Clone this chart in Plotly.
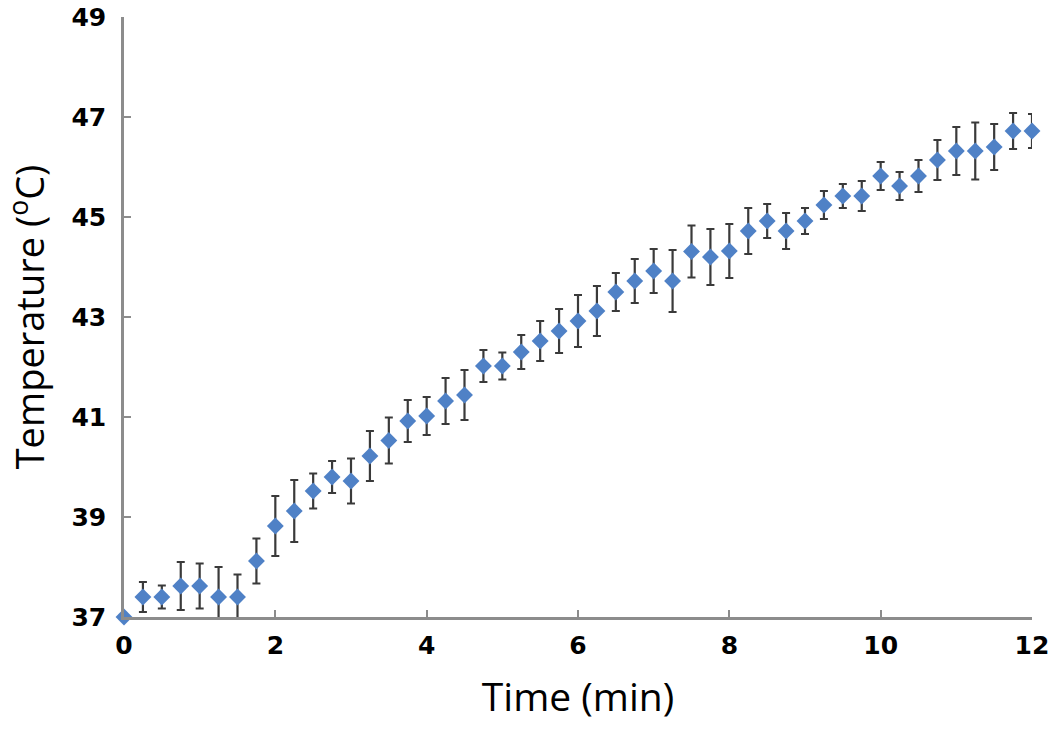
import plotly.graph_objects as go

time_min = [0, 0.25, 0.5, 0.75, 1.0, 1.25, 1.5, 1.75, 2.0, 2.25, 2.5, 2.75, 3.0, 3.25, 3.5, 3.75,
            4.0, 4.25, 4.5, 4.75, 5.0, 5.25, 5.5, 5.75, 6.0, 6.25, 6.5, 6.75, 7.0, 7.25, 7.5, 7.75,
            8.0, 8.25, 8.5, 8.75, 9.0, 9.25, 9.5, 9.75, 10.0, 10.25, 10.5, 10.75, 11.0, 11.25, 11.5,
            11.75, 12.0]
temperature = [37.0, 37.4, 37.4, 37.62, 37.62, 37.4, 37.4, 38.12, 38.82, 39.12, 39.52, 39.8, 39.72,
               40.22, 40.53, 40.92, 41.02, 41.32, 41.44, 42.02, 42.02, 42.3, 42.52, 42.72, 42.92,
               43.12, 43.5, 43.72, 43.92, 43.72, 44.31, 44.2, 44.32, 44.72, 44.92, 44.72, 44.92,
               45.24, 45.42, 45.42, 45.82, 45.62, 45.82, 46.14, 46.32, 46.32, 46.4, 46.72, 46.72]
error = [0.0, 0.3, 0.23, 0.48, 0.45, 0.6, 0.45, 0.45, 0.6, 0.62, 0.35, 0.32, 0.45, 0.5, 0.46, 0.42,
         0.38, 0.46, 0.5, 0.32, 0.27, 0.34, 0.4, 0.44, 0.52, 0.5, 0.38, 0.44, 0.44, 0.62, 0.52,
         0.56, 0.54, 0.46, 0.34, 0.36, 0.26, 0.28, 0.24, 0.3, 0.28, 0.28, 0.32, 0.4, 0.48, 0.57,
         0.46, 0.36, 0.34]

x_ticks = [0, 2, 4, 6, 8, 10, 12]
y_ticks = [37, 39, 41, 43, 45, 47, 49]

fig = go.Figure()
fig.add_trace(go.Scatter(
    x=time_min, y=temperature, mode="markers",
    marker=dict(symbol="diamond", size=13, color="#4f81c6"),
    error_y=dict(type="data", array=error, visible=True, color="#3a3a3a", thickness=2.2, width=4),
    cliponaxis=False, showlegend=False,
))

tick_font = dict(family="DejaVu Sans", size=25, color="black", weight="bold")

fig.update_layout(
    width=1050, height=729,
    margin=dict(l=124, r=18, t=17, b=112),
    plot_bgcolor="white", paper_bgcolor="white",
    xaxis=dict(
        range=[0, 12], tickvals=x_ticks, ticktext=[str(v) for v in x_ticks],
        automargin="bottom",
        showgrid=False, zeroline=False, showline=True, linecolor="#8c8c8c", linewidth=2.5,
        ticks="inside", ticklen=7, tickcolor="#8c8c8c", tickwidth=2,
        ticklabelstandoff=4, ticklabeloverflow="allow",
        tickfont=tick_font,
        title=dict(text="Time (min)", font=dict(family="Open Sans", size=39, color="black"), standoff=25),
    ),
    yaxis=dict(
        range=[37, 49], tickvals=y_ticks, ticktext=[str(v) for v in y_ticks],
        automargin="left",
        showgrid=False, zeroline=False, showline=True, linecolor="#8c8c8c", linewidth=2.5,
        ticks="inside", ticklen=7, tickcolor="#8c8c8c", tickwidth=2,
        ticklabelstandoff=10, ticklabeloverflow="allow",
        tickfont=tick_font,
        title=dict(text="Temperature (<sup>o</sup>C)", font=dict(family="Open Sans", size=38, color="black"), standoff=31),
    ),
)

fig.write_html("out.html", config={"displayModeBar": False},
               post_script="document.body.style.margin='0';")
